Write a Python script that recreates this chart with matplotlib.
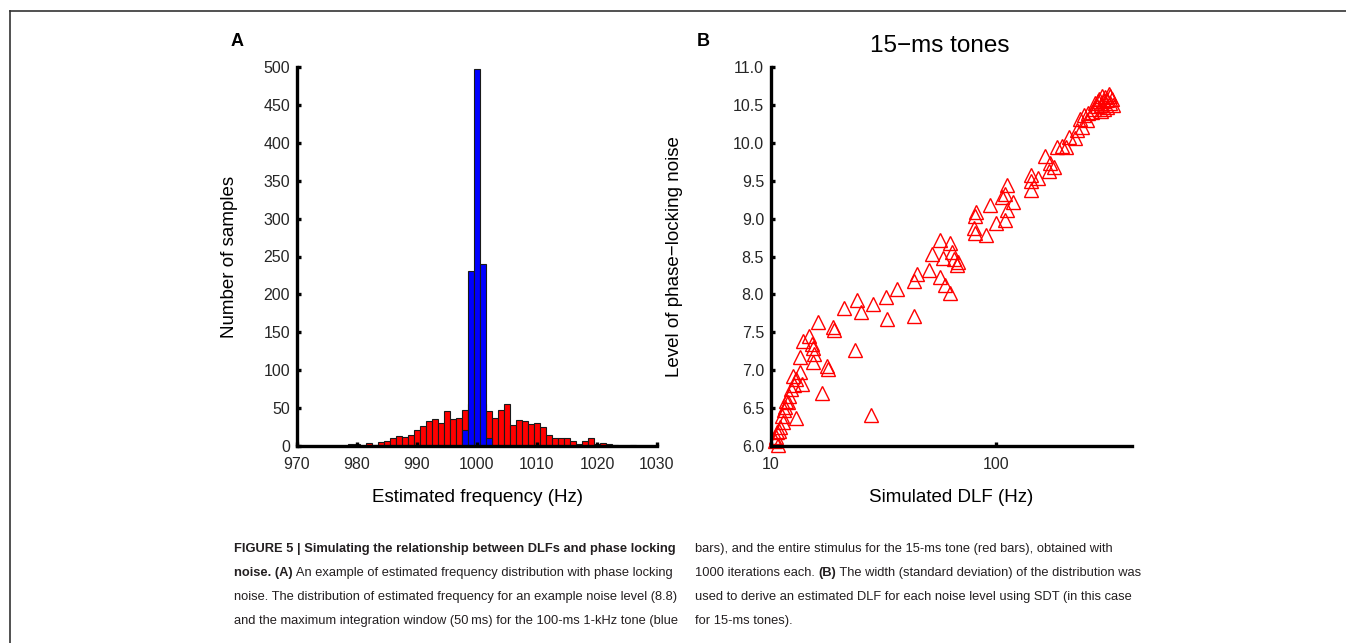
import matplotlib
matplotlib.use("Agg")
import matplotlib.pyplot as plt
from matplotlib.lines import Line2D
import numpy as np

# histogram counts (bins of 1 Hz, centred on integers)
red_bins = [979, 980, 981, 982, 983, 984, 985, 986, 987, 988, 989, 990, 991, 992,
            993, 994, 995, 996, 997, 998, 999, 1000, 1001, 1002, 1003, 1004, 1005,
            1006, 1007, 1008, 1009, 1010, 1011, 1012, 1013, 1014, 1015, 1016, 1017,
            1018, 1019, 1020, 1021, 1022, 1023, 1024, 1025, 1026]
red_counts = [3, 2, 0, 4, 1, 5, 6, 10, 13, 12, 15, 21, 27, 33,
              36, 31, 46, 35, 37, 47, 55, 58, 55, 46, 37, 48, 55,
              28, 34, 33, 29, 30, 25, 15, 11, 10, 10, 6, 3,
              6, 11, 3, 4, 3, 1, 0, 0, 1]
blue_bins = [998, 999, 1000, 1001, 1002]
blue_counts = [21, 231, 498, 240, 10]

# panel B: simulated DLF (Hz) vs noise level
dlf = [27.8, 16.8, 23.6, 42.9, 32.7, 25.0, 24.0, 21.0, 28.3, 32.4, 36.2, 43.2, 44.4,
       50.0, 56.1, 59.3, 62.5, 66.9, 67.9, 57.9, 51.8, 56.4, 62.0, 63.6, 65.0,
       16.1, 18.9, 19.0, 14.8, 13.9, 15.2, 15.4, 15.5, 15.4, 13.4, 17.7, 17.9,
       13.4, 12.9, 13.7, 12.7, 12.06, 11.9, 11.5, 11.4, 12.9, 11.3, 11.0, 10.6,
       10.5, 10.4, 10.7, 10.9, 11.2, 11.6, 12.3, 12.5,
       81.5, 80.8, 79.4, 80.2, 90.3, 93.4, 100.0, 109.6, 111.7, 111.7, 109.6, 106.0,
       118.8, 141.9, 142.9, 141.9, 152.9, 165.2, 173.9, 171.0, 179.4, 186.3, 196.0,
       204.8, 209.6, 224.5, 228.2, 240.0, 235.6, 252.3, 256.4, 244.2,
       270, 275, 280, 285, 290, 295, 300, 305, 310, 315, 320, 325, 330, 290, 300,
       310, 320, 265, 282]
noise = [6.41, 6.70, 7.27, 7.72, 7.67, 7.77, 7.92, 7.82, 7.87, 7.97, 8.07, 8.18, 8.27,
         8.32, 8.23, 8.12, 8.02, 8.39, 8.43, 8.48, 8.53, 8.72, 8.68, 8.56, 8.47,
         7.63, 7.57, 7.53, 7.45, 7.38, 7.35, 7.29, 7.21, 7.11, 7.17, 7.06, 7.01,
         6.97, 6.89, 6.82, 6.80, 6.66, 6.58, 6.52, 6.47, 6.37, 6.32, 6.25, 6.18,
         6.12, 6.06, 6.01, 6.20, 6.40, 6.60, 6.75, 6.92,
         9.09, 9.03, 8.87, 8.81, 8.78, 9.18, 8.94, 8.98, 9.12, 9.44, 9.33, 9.28,
         9.22, 9.58, 9.49, 9.38, 9.53, 9.82, 9.73, 9.63, 9.68, 9.94, 9.96,
         9.94, 10.08, 10.06, 10.17, 10.21, 10.32, 10.30, 10.39, 10.37,
         10.45, 10.52, 10.48, 10.58, 10.50, 10.62, 10.55, 10.60, 10.47, 10.65, 10.52,
         10.58, 10.50, 10.42, 10.45, 10.57, 10.62, 10.40, 10.55]

xticks_a = [970, 980, 990, 1000, 1010, 1020, 1030]
yticks_a = [0, 50, 100, 150, 200, 250, 300, 350, 400, 450, 500]
xticks_b = [10, 100]
yticks_b = [6.0, 6.5, 7.0, 7.5, 8.0, 8.5, 9.0, 9.5, 10.0, 10.5, 11.0]

plt.rcParams['font.family'] = ['Liberation Sans', 'DejaVu Sans']

W, H = 1346, 643
fig = plt.figure(figsize=(W / 100, H / 100), dpi=100)
renderer = fig.canvas.get_renderer()


def style_axes(ax):
    for s in ['top', 'right']:
        ax.spines[s].set_visible(False)
    for s in ['left', 'bottom']:
        ax.spines[s].set_linewidth(2.4)
    ax.tick_params(direction='in', length=3, width=2.4, labelsize=11.5,
                   labelcolor='#262626')
    ax.tick_params(axis='x', pad=8)
    ax.tick_params(axis='y', pad=5)


# panel A
ax1 = fig.add_axes([297 / W, 1 - 446 / H, 360 / W, 379 / H])
ax1.bar(red_bins, red_counts, width=1, color='#ff0000', edgecolor='#1a1a1a', linewidth=0.8)
ax1.bar(blue_bins, blue_counts, width=1, color='#0000ff', edgecolor='#1a1a1a', linewidth=0.8)
ax1.set_xlim(970, 1030)
ax1.set_ylim(0, 500)
ax1.set_xticks(xticks_a)
ax1.set_yticks(yticks_a)
style_axes(ax1)
ax1.set_xlabel('Estimated frequency (Hz)', fontsize=13.5)
ax1.set_ylabel('Number of samples', fontsize=13.5)
ax1.xaxis.set_label_coords(0.5, -0.113)
ax1.yaxis.set_label_coords(-0.164, 0.5)

# panel B
ax2 = fig.add_axes([771 / W, 1 - 446 / H, 361 / W, 379 / H])
ax2.plot(dlf, noise, linestyle='none', marker='^', markersize=10.5,
         markerfacecolor='none', markeredgecolor='#ff0000', markeredgewidth=1.0,
         clip_on=False)
ax2.set_xscale('log')
ax2.set_xlim(10, 400)
ax2.set_ylim(6.0, 11.0)
ax2.set_xticks(xticks_b)
ax2.set_xticklabels([str(t) for t in xticks_b])
ax2.xaxis.set_minor_locator(matplotlib.ticker.NullLocator())
ax2.set_yticks(yticks_b)
ax2.set_yticklabels(['%.1f' % t for t in yticks_b])
style_axes(ax2)
ax2.set_xlabel('Simulated DLF (Hz)', fontsize=13.5)
ax2.set_ylabel('Level of phase\u2212locking noise', fontsize=13.5)
ax2.xaxis.set_label_coords(0.5, -0.113)
ax2.yaxis.set_label_coords(-0.244, 0.5)

fig.text(940 / W, 1 - 46 / H, '15\u2212ms tones', fontsize=17.5, ha='center', va='center')
fig.text(237 / W, 1 - 42 / H, 'A', fontsize=13, fontweight='bold', ha='center', va='center')
fig.text(703 / W, 1 - 42 / H, 'B', fontsize=13, fontweight='bold', ha='center', va='center')

# frame lines
fig.add_artist(Line2D([9.5 / W, 9.5 / W], [0, 1 - 11 / H], color='#333333', lw=1.2,
                      transform=fig.transFigure))
fig.add_artist(Line2D([9.5 / W, 1], [1 - 11 / H, 1 - 11 / H], color='#333333', lw=1.2,
                      transform=fig.transFigure))

# caption
cap_left = [
    [("FIGURE 5 | Simulating the relationship between DLFs and phase locking", 'bold')],
    [("noise. (A)", 'bold'), (" An example of estimated frequency distribution with phase locking", 'normal')],
    [("noise. The distribution of estimated frequency for an example noise level (8.8)", 'normal')],
    [("and the maximum integration window (50\u2009ms) for the 100-ms 1-kHz tone (blue", 'normal')],
]
cap_right = [
    [("bars), and the entire stimulus for the 15-ms tone (red bars), obtained with", 'normal')],
    [("1000 iterations each. ", 'normal'), ("(B)", 'bold'),
     (" The width (standard deviation) of the distribution was", 'normal')],
    [("used to derive an estimated DLF for each noise level using SDT (in this case", 'normal')],
    [("for 15-ms tones).", 'normal')],
]
line_y = [549, 573, 597, 621]

# size the caption so that the first line spans about the same width as in the figure
probe = fig.text(0, 0, cap_left[0][0][0], fontsize=12, fontweight='bold')
cap_size = 12 * 442 / probe.get_window_extent(renderer).width
probe.remove()


def draw_lines(lines, x0):
    for segs, y in zip(lines, line_y):
        x = x0
        for txt, wt in segs:
            t = fig.text(x / W, 1 - y / H, txt, fontsize=cap_size, fontweight=wt,
                         color='#231f20', ha='left', va='center')
            x += t.get_window_extent(renderer).width


draw_lines(cap_left, 234)
draw_lines(cap_right, 695)

fig.savefig('out.png', dpi=100)
